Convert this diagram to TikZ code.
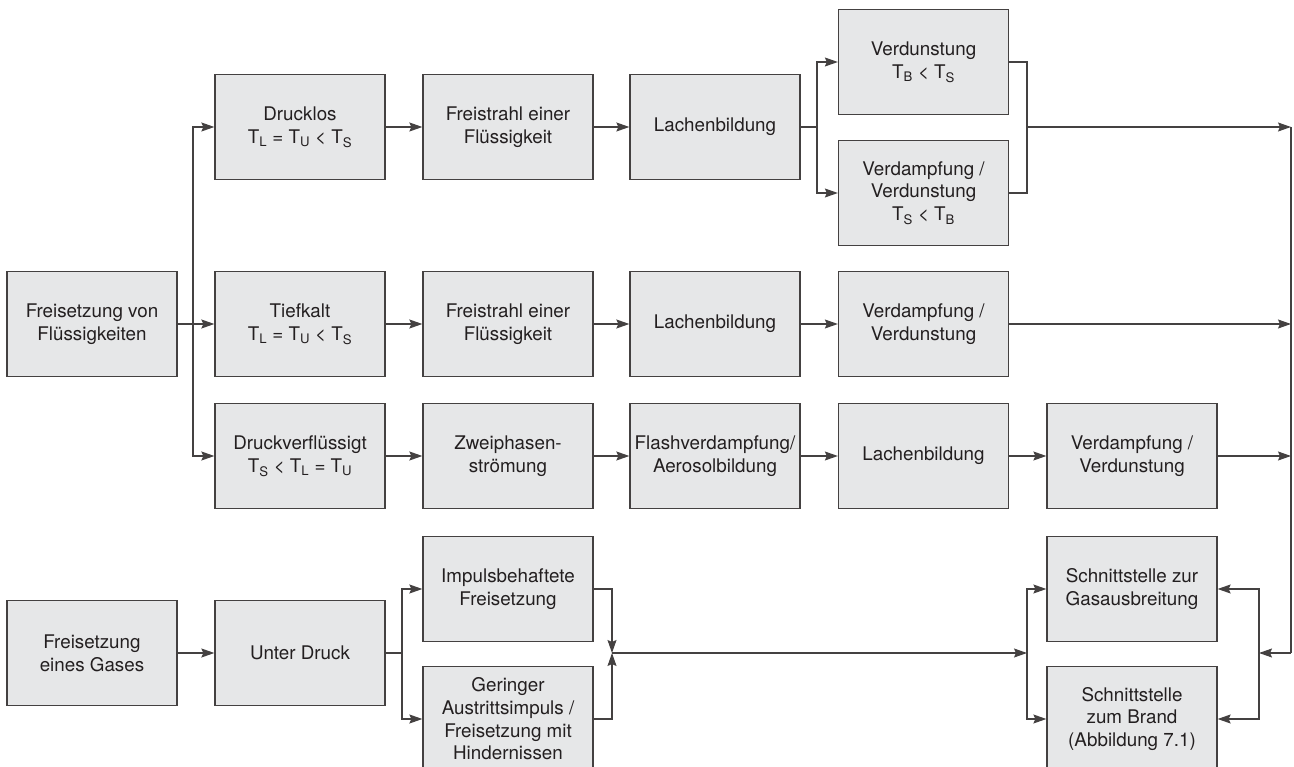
\documentclass[tikz,border=0pt]{standalone}
\usepackage{fontspec}
\setmainfont{TeX Gyre Heros}
\usepackage{tikz}
\usetikzlibrary{arrows.meta}
\usepackage{xcolor}
\definecolor{boxfill}{HTML}{E6E7E8}
\definecolor{ink}{HTML}{231F20}
\newcommand{\tsub}[1]{\textsubscript{#1}}

\begin{document}
\begin{tikzpicture}[x=1pt,y=-1pt,>={Stealth[length=13pt,width=9pt,inset=2pt]},
  stage/.style={draw=ink!85,line width=1.3pt,fill=boxfill,text=ink,minimum width=170pt,minimum height=105pt,inner sep=0pt,align=center,font=\fontsize{18.8pt}{22.7pt}\selectfont},
  link/.style={draw=ink!85,line width=1.1pt}]
\useasboundingbox (0,0) rectangle (1294,767);
\node[stage] (fluid) at (92,324) {Freisetzung von\\Flüssigkeiten};
\node[stage] (drucklos) at (300,127) {Drucklos\\T\tsub{L} = T\tsub{U} < T\tsub{S}};
\node[stage] (strahlA) at (508,127) {Freistrahl einer\\Flüssigkeit};
\node[stage] (lacheA) at (715,127) {Lachenbildung};
\node[stage] (verdA) at (923.5,62) {Verdunstung\\T\tsub{B} < T\tsub{S}};
\node[stage] (verdB) at (923.5,193) {Verdampfung /\\Verdunstung\\T\tsub{S} < T\tsub{B}};
\node[stage] (tiefkalt) at (300,324) {Tiefkalt\\T\tsub{L} = T\tsub{U} < T\tsub{S}};
\node[stage] (strahlB) at (508,324) {Freistrahl einer\\Flüssigkeit};
\node[stage] (lacheB) at (715,324) {Lachenbildung};
\node[stage] (verdC) at (923.5,324) {Verdampfung /\\Verdunstung};
\node[stage] (druckfl) at (300,456) {Druckverflüssigt\\T\tsub{S} < T\tsub{L} = T\tsub{U}};
\node[stage] (zweiph) at (508,456) {Zweiphasen-\\strömung};
\node[stage] (flash) at (715,456) {Flashverdampfung/\\Aerosolbildung};
\node[stage] (lacheC) at (923.5,456) {Lachenbildung};
\node[stage] (verdD) at (1132,456) {Verdampfung /\\Verdunstung};
\node[stage] (gas) at (92,653) {Freisetzung\\eines Gases};
\node[stage] (unterdruck) at (300,653) {Unter Druck};
\node[stage] (impuls) at (508,589) {Impulsbehaftete\\Freisetzung};
\node[stage] (gering) at (508,719) {Geringer\\Austrittsimpuls /\\Freisetzung mit\\Hindernissen};
\node[stage] (schnittgas) at (1132,589) {Schnittstelle zur\\Gasausbreitung};
\node[stage] (schnittbrand) at (1132,719) {Schnittstelle\\zum Brand\\(Abbildung 7.1)};
\coordinate (splitL) at (193,324);
\coordinate (splitA) at (817,127);
\coordinate (mergeA) at (1027,127);
\coordinate (railTop) at (1291,127);
\coordinate (railBot) at (1291,653);
\coordinate (splitR) at (1259,653);
\coordinate (splitD) at (402,653);
\coordinate (mergeD) at (612,653);
\coordinate (splitS) at (1027,653);
\draw[link,->] (fluid) -- (tiefkalt);
\draw[link,->] (splitL) |- (drucklos);
\draw[link,->] (splitL) |- (druckfl);
\draw[link,->] (drucklos) -- (strahlA);
\draw[link,->] (strahlA) -- (lacheA);
\draw[link] (lacheA) -- (splitA);
\draw[link,->] (splitA) |- (verdA);
\draw[link,->] (splitA) |- (verdB);
\draw[link] (verdA.east) -| (mergeA) |- (verdB.east);
\draw[link,->] (mergeA) -- (railTop);
\draw[link,->] (tiefkalt) -- (strahlB);
\draw[link,->] (strahlB) -- (lacheB);
\draw[link,->] (lacheB) -- (verdC);
\draw[link,->] (verdC) -- (verdC -| railTop);
\draw[link,->] (druckfl) -- (zweiph);
\draw[link,->] (zweiph) -- (flash);
\draw[link,->] (flash) -- (lacheC);
\draw[link,->] (lacheC) -- (verdD);
\draw[link,->] (verdD) -- (verdD -| railTop);
\draw[link] (railTop) -- (railBot);
\draw[link,->] (railBot) -- (splitR);
\draw[link,->] (splitR) |- (schnittgas);
\draw[link,->] (splitR) |- (schnittbrand);
\draw[link,->] (gas) -- (unterdruck);
\draw[link] (unterdruck) -- (splitD);
\draw[link,->] (splitD) |- (impuls);
\draw[link,->] (splitD) |- (gering);
\draw[link,->] (impuls.east) -| (mergeD);
\draw[link,->] (gering.east) -| (mergeD);
\draw[link,->] (mergeD) -- (splitS);
\draw[link,->] (splitS) |- (schnittgas);
\draw[link,->] (splitS) |- (schnittbrand);
\end{tikzpicture}
\end{document}
